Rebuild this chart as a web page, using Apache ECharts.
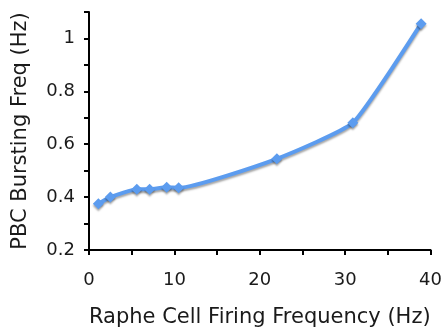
<!DOCTYPE html>
<html><head><meta charset="utf-8">
<script src="https://cdn.jsdelivr.net/npm/echarts@6/dist/echarts.min.js"></script>
<style>html,body{margin:0;padding:0;background:#fff}#c{width:445px;height:335px}</style>
</head><body><div id="c"></div>
<script>
var xValues = [1.1, 2.5, 5.6, 7.1, 9.1, 10.5, 22, 30.9, 38.9];
var yValues = [0.375, 0.400, 0.430, 0.430, 0.437, 0.435, 0.545, 0.681, 1.056];
var xTitle = 'Raphe Cell Firing Frequency (Hz)';
var yTitle = 'PBC Bursting Freq (Hz)';
var data = xValues.map(function(x, i){ return [x, yValues[i]]; });
var chart = echarts.init(document.getElementById('c'));
var font = 'DejaVu Sans';
chart.setOption({
  animation: false,
  grid: {left: 89, right: 13, top: 12, bottom: 85},
  xAxis: {
    type: 'value', min: 0, max: 40, interval: 5,
    axisLine: {lineStyle: {color: '#000', width: 2}},
    axisTick: {show: true, length: 5, lineStyle: {color: '#000', width: 2}},
    splitLine: {show: false},
    axisLabel: {color: '#1a1a1a', fontFamily: font, fontSize: 18, margin: 21,
      formatter: function(v){ return v % 10 === 0 ? String(v) : ''; }},
    name: xTitle, nameLocation: 'middle', nameGap: 57,
    nameTextStyle: {color: '#1a1a1a', fontFamily: font, fontSize: 21}
  },
  yAxis: {
    type: 'value', min: 0.2, max: 1.1, interval: 0.1,
    axisLine: {show: true, lineStyle: {color: '#000', width: 2}},
    axisTick: {show: true, length: 5, lineStyle: {color: '#000', width: 2}},
    splitLine: {show: false},
    axisLabel: {color: '#1a1a1a', fontFamily: font, fontSize: 18, margin: 14,
      formatter: function(v){
        var r = Math.round(v * 10);
        if (r % 2 !== 0) return '';
        if (r === 10) return '1';
        return (r / 10).toFixed(1);
      }},
    name: yTitle, nameLocation: 'middle', nameGap: 58, nameRotate: 90,
    nameTextStyle: {color: '#1a1a1a', fontFamily: font, fontSize: 21}
  },
  series: [{
    type: 'line', data: data, smooth: 0.15,
    symbol: 'diamond', symbolSize: 11,
    lineStyle: {color: '#5c9cef', width: 4, shadowColor: 'rgba(0,0,0,0.35)', shadowBlur: 2, shadowOffsetY: 2},
    itemStyle: {color: '#5c9cef', shadowColor: 'rgba(0,0,0,0.35)', shadowBlur: 2, shadowOffsetY: 2}
  }]
});
</script></body></html>
